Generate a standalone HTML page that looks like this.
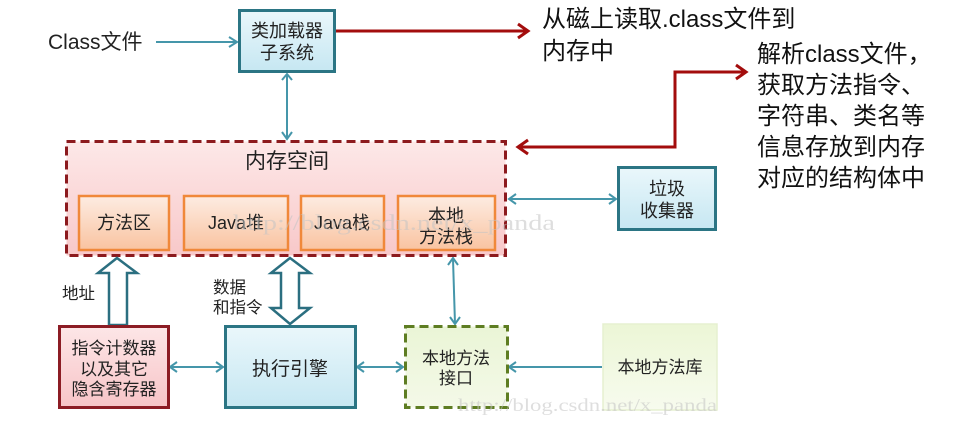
<!DOCTYPE html>
<html><head><meta charset="utf-8">
<style>
html,body{margin:0;padding:0;background:#fff;}
svg{display:block;}
text{font-family:"Liberation Sans","Noto Sans CJK SC",sans-serif;fill:#222;}
.ann{font-size:24px;fill:#111;}
.wm{font-family:"Liberation Serif","Noto Serif CJK SC",serif;fill:#c4c4c4;opacity:0.55;}
</style></head>
<body>
<svg width="953" height="423" viewBox="0 0 953 423" xmlns="http://www.w3.org/2000/svg">
<defs>
<linearGradient id="gBlue" x1="0" y1="0" x2="0" y2="1"><stop offset="0" stop-color="#eaf7fb"/><stop offset="1" stop-color="#c6e7f2"/></linearGradient>
<linearGradient id="gPink" x1="0" y1="0" x2="0" y2="1"><stop offset="0" stop-color="#fde8e8"/><stop offset="1" stop-color="#f8c8c9"/></linearGradient>
<linearGradient id="gOrange" x1="0" y1="0" x2="0" y2="1"><stop offset="0" stop-color="#fdece2"/><stop offset="1" stop-color="#f9c3a0"/></linearGradient>
<linearGradient id="gReg" x1="0" y1="0" x2="0" y2="1"><stop offset="0" stop-color="#fde6e7"/><stop offset="1" stop-color="#f7c4c7"/></linearGradient>
<linearGradient id="gGreen" x1="0" y1="0" x2="0" y2="1"><stop offset="0" stop-color="#eaf5d6"/><stop offset="1" stop-color="#f4f9e8"/></linearGradient>
<linearGradient id="gLib" x1="0" y1="0" x2="0" y2="1"><stop offset="0" stop-color="#ecf6d6"/><stop offset="1" stop-color="#f7fbee"/></linearGradient>
</defs>

<!-- Class file -->
<text x="48" y="49" font-size="21">Class文件</text>
<g stroke="#4596aa" stroke-width="2" fill="none">
  <line x1="156" y1="42" x2="236" y2="42"/>
  <polyline points="229,37 237,42 229,47"/>
  <line x1="287" y1="74" x2="287" y2="139"/>
  <polyline points="282,80 287,74 292,80"/>
  <polyline points="282,132 287,139 292,132"/>
  <line x1="509" y1="199" x2="616" y2="199"/>
  <polyline points="516,194 509,199 516,204"/>
  <polyline points="609,194 616,199 609,204"/>
  <line x1="453" y1="259" x2="455" y2="324"/>
  <polyline points="448,265 453,258 458,265"/>
  <polyline points="450,317 455,324 460,317"/>
  <line x1="170" y1="367" x2="223" y2="367"/>
  <polyline points="177,362 170,367 177,372"/>
  <polyline points="216,362 223,367 216,372"/>
  <line x1="357" y1="367" x2="403" y2="367"/>
  <polyline points="364,362 357,367 364,372"/>
  <polyline points="396,362 403,367 396,372"/>
  <line x1="602" y1="367" x2="509" y2="367"/>
  <polyline points="516,362 509,367 516,372"/>
</g>

<!-- Loader box -->
<rect x="239.5" y="10.5" width="95" height="61" fill="url(#gBlue)" stroke="#2b7584" stroke-width="3"/>
<text x="287" y="37" font-size="18" text-anchor="middle">类加载器</text>
<text x="287" y="59" font-size="18" text-anchor="middle">子系统</text>

<!-- red arrows -->
<g stroke="#a30d0d" stroke-width="3" fill="none">
  <line x1="336" y1="31" x2="527" y2="31"/>
  <polyline points="518,24 528,31 518,38"/>
  <polyline points="746,72 675,72 675,147 518,147"/>
  <polyline points="736,65 746,72 736,79"/>
  <polyline points="528,140 518,147 528,154"/>
</g>
<text class="ann" x="542" y="27">从磁上读取.class文件到</text>
<text class="ann" x="542" y="59">内存中</text>
<text class="ann" x="757" y="62">解析class文件，</text>
<text class="ann" x="757" y="93">获取方法指令、</text>
<text class="ann" x="757" y="124">字符串、类名等</text>
<text class="ann" x="757" y="155">信息存放到内存</text>
<text class="ann" x="757" y="186">对应的结构体中</text>

<!-- Memory space -->
<rect x="66.5" y="141.5" width="439" height="114" fill="url(#gPink)" stroke="#8c1a1e" stroke-width="3" stroke-dasharray="9 5"/>
<text x="287" y="168" font-size="21" text-anchor="middle">内存空间</text>

<g stroke="#f0883a" stroke-width="2.5" fill="url(#gOrange)">
  <rect x="79" y="196" width="90" height="54"/>
  <rect x="184" y="196" width="104" height="54"/>
  <rect x="301" y="196" width="83" height="54"/>
  <rect x="398" y="196" width="97" height="54"/>
</g>
<text x="124" y="229" font-size="18" text-anchor="middle">方法区</text>
<text x="236" y="229" font-size="18" text-anchor="middle">Java堆</text>
<text x="342" y="229" font-size="18" text-anchor="middle">Java栈</text>
<text x="446" y="222" font-size="18" text-anchor="middle">本地</text>
<text x="446" y="243" font-size="18" text-anchor="middle">方法栈</text>

<!-- GC -->
<rect x="618.5" y="167.5" width="97" height="62" fill="url(#gBlue)" stroke="#2b7584" stroke-width="3"/>
<text x="667" y="195" font-size="18" text-anchor="middle">垃圾</text>
<text x="667" y="217" font-size="18" text-anchor="middle">收集器</text>

<!-- hollow arrows -->
<g stroke="#2b6f80" stroke-width="2.5" fill="#fff" stroke-linejoin="miter">
  <polygon points="117,258 137,273 127,273 127,325 109,325 109,273 98,273"/>
  <polygon points="290,258 310,273 299,273 299,308 310,308 290,324 271,308 281,308 281,273 271,273"/>
</g>
<text x="62" y="299" font-size="16.5">地址</text>
<text x="213" y="293" font-size="16.5">数据</text>
<text x="213" y="313" font-size="16.5">和指令</text>

<!-- register box -->
<rect x="59.5" y="326.5" width="109" height="81" fill="url(#gReg)" stroke="#8c1c24" stroke-width="3"/>
<text x="114" y="354" font-size="17" text-anchor="middle">指令计数器</text>
<text x="114" y="375" font-size="17" text-anchor="middle">以及其它</text>
<text x="114" y="395" font-size="17" text-anchor="middle">隐含寄存器</text>

<!-- execution engine -->
<rect x="225.5" y="326.5" width="130" height="81" fill="url(#gBlue)" stroke="#2b7584" stroke-width="3"/>
<text x="290" y="375" font-size="19" text-anchor="middle">执行引擎</text>

<!-- native interface -->
<rect x="405.5" y="326.5" width="102" height="81" fill="url(#gGreen)" stroke="#5e7d22" stroke-width="3" stroke-dasharray="9 5"/>
<text x="456" y="364" font-size="17" text-anchor="middle">本地方法</text>
<text x="456" y="384" font-size="17" text-anchor="middle">接口</text>

<!-- native library -->
<rect x="603" y="324" width="114" height="86" fill="url(#gLib)" stroke="#e6f0d0" stroke-width="1.5"/>
<text x="660" y="373" font-size="17" text-anchor="middle">本地方法库</text>

<!-- watermarks -->
<text class="wm" x="233" y="230" font-size="22" textLength="322" lengthAdjust="spacingAndGlyphs">http://blog.csdn.net/x_panda</text>
<text class="wm" x="458" y="411" font-size="18" textLength="259" lengthAdjust="spacingAndGlyphs">http://blog.csdn.net/x_panda</text>
</svg>
</body></html>
